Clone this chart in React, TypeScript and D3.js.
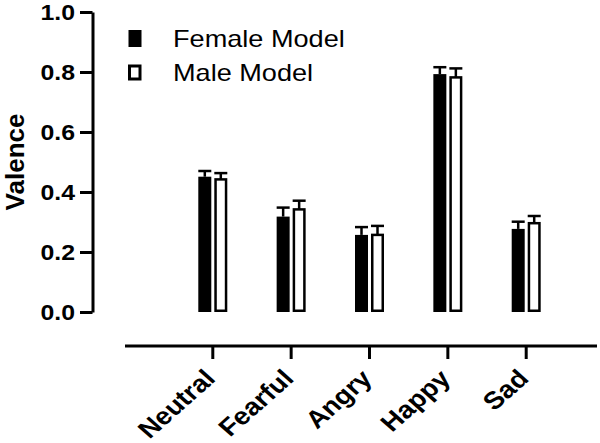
import React, { useEffect, useMemo, useRef } from "react";
import * as d3 from "d3";

const WIDTH = 600;
const HEIGHT = 443;
// the source picture is a bit wider than tall, so text gets stretched sideways
const TEXT_STRETCH = 1.13;
const FONT = "'Liberation Sans', Arial, Helvetica, sans-serif";

const categories = ["Neutral", "Fearful", "Angry", "Happy", "Sad"];
const series = ["Female Model", "Male Model"];
const femaleMeans = [0.451, 0.318, 0.257, 0.793, 0.277];
const femaleErrors = [0.019, 0.03, 0.026, 0.023, 0.024];
const maleMeans = [0.442, 0.342, 0.257, 0.782, 0.296];
const maleErrors = [0.021, 0.029, 0.03, 0.03, 0.024];
const yTicks = [0, 0.2, 0.4, 0.6, 0.8, 1.0];

const Y_AXIS_X = 92.5;
const Y_TOP = 12;
const Y_BOTTOM = 312;
const X_AXIS_Y = 346;
const X_AXIS_START = 125;
const X_AXIS_END = 597;
const FIRST_CENTER = 212.3;
const LAST_CENTER = 525.7;
const AXIS_WIDTH = 3;
const BAR_STROKE = 2.5;

export default function App() {
  const yAxisRef = useRef(null);
  const xAxisRef = useRef(null);

  const yScale = useMemo(
    () => d3.scaleLinear().domain([0, 1]).range([Y_BOTTOM, Y_TOP]),
    []
  );
  const xScale = useMemo(
    () => d3.scalePoint().domain(categories).range([FIRST_CENTER, LAST_CENTER]),
    []
  );
  const inner = useMemo(
    () => d3.scaleBand().domain(series).range([-14, 15]).paddingInner(0.1875),
    []
  );
  const bw = inner.bandwidth();

  useEffect(() => {
    // y axis
    const gy = d3.select(yAxisRef.current);
    gy.selectAll("*").remove();
    gy.call(
      d3
        .axisLeft(yScale)
        .tickValues(yTicks)
        .tickSize(12.5)
        .tickSizeOuter(0)
        .tickFormat(d3.format(".1f"))
    );
    gy.select(".domain").attr("stroke-width", AXIS_WIDTH);
    gy.selectAll(".tick line").attr("stroke-width", AXIS_WIDTH);
    gy.selectAll(".tick text")
      .attr("x", null)
      .attr("dy", "0.36em")
      .attr("transform", `translate(-17.5,0) scale(${TEXT_STRETCH},1)`)
      .attr("font-family", FONT)
      .attr("font-weight", "bold")
      .attr("font-size", 22)
      .attr("fill", "#000");

    // x axis: ticks from d3, long base line drawn by hand
    const gx = d3.select(xAxisRef.current);
    gx.selectAll("*").remove();
    gx.call(d3.axisBottom(xScale).tickSize(13).tickSizeOuter(0));
    gx.select(".domain").remove();
    gx.selectAll(".tick line").attr("stroke-width", AXIS_WIDTH);
    gx.selectAll(".tick text").remove();
    gx.append("line")
      .attr("x1", X_AXIS_START)
      .attr("x2", X_AXIS_END)
      .attr("y1", 0)
      .attr("y2", 0)
      .attr("stroke", "#000")
      .attr("stroke-width", AXIS_WIDTH);
    gx.selectAll(".tick")
      .append("text")
      .attr("transform", `translate(4,34) scale(${TEXT_STRETCH},1) rotate(-45)`)
      .attr("text-anchor", "end")
      .attr("font-family", FONT)
      .attr("font-weight", "bold")
      .attr("font-size", 24.5)
      .attr("fill", "#000")
      .text((d) => d as string);
  }, [xScale, yScale]);

  const bars = categories.map((cat, i) => {
    const cx = xScale(cat) as number;
    const fx = cx + (inner("Female Model") as number);
    const mx = cx + (inner("Male Model") as number);
    const fTop = yScale(femaleMeans[i]);
    const mTop = yScale(maleMeans[i]);
    const fErr = yScale(femaleMeans[i] + femaleErrors[i]);
    const mErr = yScale(maleMeans[i] + maleErrors[i]);
    return (
      <g key={cat}>
        <rect x={fx} y={fTop} width={bw} height={Y_BOTTOM - fTop} fill="#000" />
        <line x1={fx + bw / 2} x2={fx + bw / 2} y1={fTop} y2={fErr} stroke="#000" strokeWidth={BAR_STROKE} />
        <line x1={fx} x2={fx + bw} y1={fErr} y2={fErr} stroke="#000" strokeWidth={BAR_STROKE} />
        <rect
          x={mx + BAR_STROKE / 2}
          y={mTop}
          width={bw - BAR_STROKE}
          height={Y_BOTTOM - mTop - BAR_STROKE / 2}
          fill="#fff"
          stroke="#000"
          strokeWidth={BAR_STROKE}
        />
        <line x1={mx + bw / 2} x2={mx + bw / 2} y1={mTop} y2={mErr} stroke="#000" strokeWidth={BAR_STROKE} />
        <line x1={mx} x2={mx + bw} y1={mErr} y2={mErr} stroke="#000" strokeWidth={BAR_STROKE} />
      </g>
    );
  });

  return (
    <svg
      width={WIDTH}
      height={HEIGHT}
      style={{ position: "absolute", left: 0, top: 0, background: "#fff" }}
    >
      <rect width={WIDTH} height={HEIGHT} fill="#fff" />
      {bars}
      <g ref={yAxisRef} transform={`translate(${Y_AXIS_X},0)`} />
      <g ref={xAxisRef} transform={`translate(0,${X_AXIS_Y})`} />

      {/* y title */}
      <text
        transform="translate(23.5,162) rotate(-90)"
        textAnchor="middle"
        fontFamily={FONT}
        fontWeight="bold"
        fontSize={26}
      >
        Valence
      </text>

      {/* legend */}
      <rect x={128.5} y={30} width={13} height={17} fill="#000" />
      <rect x={129.5} y={66} width={10.5} height={13} fill="#fff" stroke="#000" strokeWidth={3} />
      {series.map((s, i) => (
        <text
          key={s}
          transform={`translate(173,${46.5 + i * 34.5}) scale(${TEXT_STRETCH},1)`}
          fontFamily={FONT}
          fontSize={24}
        >
          {s}
        </text>
      ))}
    </svg>
  );
}
